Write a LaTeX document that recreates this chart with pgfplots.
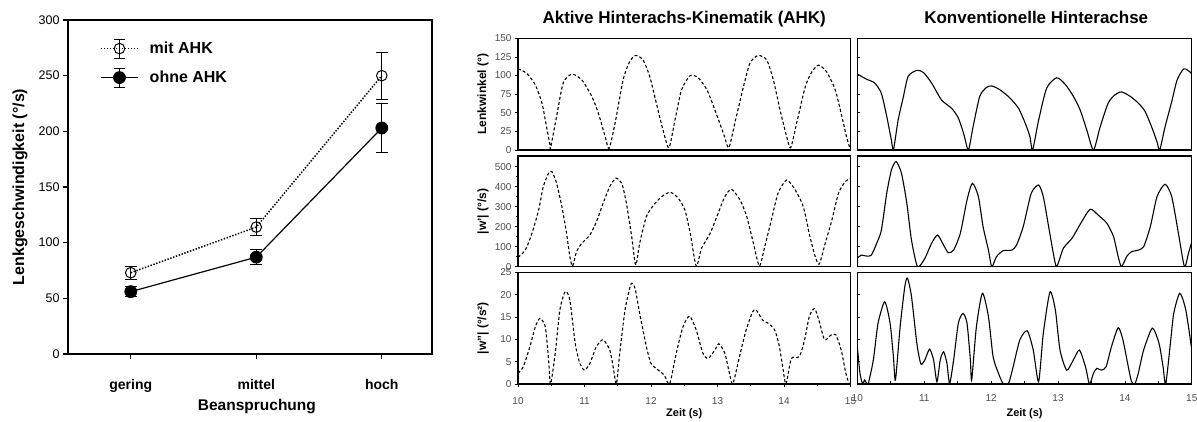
\documentclass[border=0pt]{standalone}
\usepackage{fontspec}
\setmainfont{Liberation Sans}
\usepackage{pgfplots}
\pgfplotsset{compat=1.18}

\pgfplotsset{
  panel/.style={
    scale only axis, anchor=south west,
    xmin=10, xmax=15, ymin=0,
    axis line style={line width=1.2pt},
    /pgf/number format/assume math mode=true,
    tick label style={font=\fontsize{10}{11}\selectfont, text=black!70},
    tick style={black, line width=0.8pt},
    xtick=\empty,
    ylabel style={font=\fontsize{12}{13}\selectfont\bfseries, at={(axis description cs:-0.105,0.5)}, anchor=center},
  },
  leftcol/.style={panel, width=332.5pt, tick align=outside, major tick length=3pt, minor tick length=2pt, ytick pos=left},
  rightcol/.style={panel, width=334.5pt, tick align=inside, major tick length=3pt, yticklabels={}, ytick pos=left},
  botrow/.style={xtick={10,...,15}, minor x tick num=1, xtick pos=left,
    xticklabel style={anchor=base, yshift=-17pt},
    xlabel={Zeit (s)},
    xlabel style={font=\fontsize{11}{12}\selectfont\bfseries, at={(axis description cs:0.5,0)}, anchor=base, yshift=-32.5pt}},
  ahk/.style={black, line width=1.1pt, dash pattern=on 3pt off 2.2pt, smooth, tension=0.4},
  konv/.style={black, line width=1.1pt, solid, smooth, tension=0.4},
}

\begin{document}
\begin{tikzpicture}[x=1pt,y=1pt]
\useasboundingbox (0,0) rectangle (1197,421);

% linkes Diagramm
\begin{axis}[
  at={(68pt,67pt)}, anchor=south west, scale only axis,
  width=364pt, height=334pt,
  xmin=-0.5, xmax=2.4, ymin=0, ymax=300,
  xtick={0,1,2}, xticklabels={gering,mittel,hoch},
  ytick={0,50,...,300},
  tick align=outside, xtick pos=left, ytick pos=left,
  major tick length=5pt,
  axis line style={line width=1.3pt},
  tick style={black, line width=1.3pt},
  /pgf/number format/assume math mode=true,
  xticklabel style={font=\fontsize{14}{16}\selectfont\bfseries, anchor=base, yshift=-30pt},
  yticklabel style={font=\fontsize{12.5}{14}\selectfont},
  xlabel={Beanspruchung},
  xlabel style={font=\fontsize{15.5}{17}\selectfont\bfseries, at={(axis description cs:0.519,0)}, anchor=base, yshift=-56pt},
  ylabel={Lenkgeschwindigkeit (°/s)},
  ylabel style={font=\fontsize{16}{18}\selectfont\bfseries, at={(axis description cs:-0.132,0.5)}, anchor=center},
  legend style={draw=none, fill=none, at={(axis description cs:0.088,0.945)}, anchor=north west,
    font=\fontsize{16}{18}\selectfont\bfseries, row sep=9pt, inner sep=0pt,
    /tikz/every odd column/.append style={column sep=9pt}},
  legend cell align=left,
  legend image code/.code={
    \draw[solid, black, line width=1pt] (18.5pt,-9.5pt) -- (18.5pt,9.5pt)
      (13pt,-9.5pt) -- (24pt,-9.5pt) (13pt,9.5pt) -- (24pt,9.5pt);
    \draw[mark repeat=2, mark phase=2, #1] plot coordinates {(0pt,0pt) (18.5pt,0pt) (37pt,0pt)};
  },
  error bars/error bar style={solid, black, line width=1pt},
  error bars/error mark options={solid, black, line width=1pt, mark size=6pt, rotate=90},
]
\addplot[black, line width=1.5pt, dash pattern=on 1.4pt off 1.6pt, mark=o, mark size=5.3pt,
  mark options={solid, fill=white, line width=1pt},
  error bars/.cd, y dir=both, y explicit]
  coordinates {(0,73) +- (0,6) (1,114) +- (0,8) (2,250) +- (0,21)};
\addlegendentry{mit AHK}
\addplot[black, line width=1.2pt, solid, mark=*, mark size=5.8pt,
  error bars/.cd, y dir=both, y explicit]
  coordinates {(0,56) +- (0,4.5) (1,87) +- (0,6.5) (2,203) +- (0,22)};
\addlegendentry{ohne AHK}
\end{axis}

% Lenkwinkel
\begin{axis}[leftcol, at={(518pt,271pt)}, height=111.7pt, ymax=150, ytick={0,25,...,150},
  ylabel={Lenkwinkel (°)},
  title={Aktive Hinterachs-Kinematik (AHK)},
  title style={font=\fontsize{17}{19}\selectfont\bfseries, at={(axis description cs:0.5,1)}, anchor=base, yshift=8.5pt}]
\addplot[ahk] coordinates {(10,109) (10.13,103) (10.26,87.5) (10.36,63) (10.43,31) (10.48,7) (10.49,3) (10.58,45) (10.68,90) (10.81,102) (10.96,94) (11.11,72) (11.21,49) (11.31,18) (11.37,2) (11.46,36) (11.58,94) (11.68,119) (11.77,127) (11.88,121) (11.98,99) (12.08,63) (12.18,27) (12.27,3) (12.36,40) (12.46,81) (12.59,100) (12.71,97) (12.84,81) (12.96,54) (13.09,22) (13.17,3) (13.26,36) (13.39,85) (13.49,117) (13.61,127) (13.74,121) (13.84,94) (13.94,54) (14.04,18) (14.10,3) (14.19,36) (14.32,85) (14.42,105) (14.52,114) (14.64,105) (14.77,81) (14.87,45) (14.94,18) (14.99,3) (15,6)};
\end{axis}
\begin{axis}[rightcol, at={(857.3pt,271pt)}, height=111.7pt, ymax=150, ytick={0,25,...,150},
  title={Konventionelle Hinterachse},
  title style={font=\fontsize{17}{19}\selectfont\bfseries, at={(axis description cs:0.535,1)}, anchor=base, yshift=8.5pt}]
\addplot[konv] coordinates {(10,102) (10.14,95) (10.26,90) (10.36,76) (10.44,45) (10.51,13) (10.54,0) (10.61,40) (10.69,72) (10.76,99) (10.89,107) (10.99,104) (11.11,90) (11.26,67) (11.41,56) (11.51,43) (11.59,22) (11.66,0) (11.73,31) (11.83,72) (11.93,84) (12.01,86) (12.13,81) (12.28,70) (12.41,56) (12.51,36) (12.58,18) (12.62,0) (12.71,40) (12.83,83) (12.98,97) (13.11,88) (13.23,72) (13.33,54) (13.43,27) (13.53,0) (13.63,31) (13.75,63) (13.85,74) (13.95,78) (14.08,72) (14.20,63) (14.30,52) (14.40,31) (14.48,11) (14.52,0) (14.60,31) (14.70,65) (14.78,94) (14.88,109) (14.97,105) (15,102)};
\end{axis}

% Lenkgeschwindigkeit
\begin{axis}[leftcol, at={(518pt,154.3pt)}, height=110.7pt, ymax=553, ytick={0,100,...,500}, minor y tick num=1,
  ylabel={|w'| (°/s)}]
\addplot[ahk] coordinates {(10,47) (10.11,83) (10.21,167) (10.31,283) (10.38,400) (10.46,467) (10.51,475) (10.58,417) (10.66,300) (10.73,167) (10.78,50) (10.82,3) (10.88,75) (10.96,117) (11.08,158) (11.18,225) (11.28,317) (11.38,400) (11.47,442) (11.56,417) (11.63,317) (11.71,150) (11.77,8) (11.83,117) (11.93,250) (12.04,308) (12.16,350) (12.29,372) (12.41,342) (12.51,283) (12.59,167) (12.68,3) (12.76,92) (12.89,167) (13.01,267) (13.11,350) (13.21,387) (13.34,333) (13.44,250) (13.54,117) (13.63,3) (13.71,100) (13.81,233) (13.91,367) (14.04,433) (14.17,383) (14.29,300) (14.39,150) (14.47,50) (14.53,13) (14.62,117) (14.72,233) (14.82,367) (14.92,425) (15,442)};
\end{axis}
\begin{axis}[rightcol, at={(857.3pt,154.3pt)}, height=110.7pt, ymax=553, ytick={0,100,...,500}]
\addplot[konv] coordinates {(10,42) (10.06,58) (10.14,53) (10.21,58) (10.29,117) (10.36,183) (10.44,367) (10.51,483) (10.58,525) (10.66,467) (10.74,317) (10.81,133) (10.90,0) (11.01,42) (11.11,117) (11.20,158) (11.29,108) (11.36,70) (11.44,83) (11.54,167) (11.64,333) (11.72,417) (11.81,350) (11.88,200) (11.96,83) (12.01,0) (12.08,50) (12.18,80) (12.31,83) (12.38,108) (12.48,200) (12.60,367) (12.71,408) (12.78,350) (12.86,200) (12.93,67) (12.98,0) (13.08,92) (13.21,142) (13.34,217) (13.48,287) (13.60,258) (13.73,217) (13.83,150) (13.90,50) (13.95,0) (14.03,53) (14.10,75) (14.20,83) (14.28,100) (14.38,200) (14.48,350) (14.60,412) (14.70,350) (14.80,167) (14.89,0) (14.95,67) (15,125)};
\end{axis}

% Lenkbeschleunigung
\begin{axis}[leftcol, botrow, at={(518pt,37pt)}, height=111.7pt, ymax=25, ytick={0,5,...,25},
  ylabel={|w''| (°/s²)}]
\addplot[ahk] coordinates {(10,2.4) (10.08,3.9) (10.18,8.4) (10.26,12.8) (10.33,14.7) (10.41,12.8) (10.46,5.4) (10.49,0) (10.56,6.9) (10.63,16.6) (10.71,20.7) (10.78,18.8) (10.86,9.1) (10.93,4.6) (11.0,3.1) (11.08,4.6) (11.18,8.4) (11.28,9.9) (11.38,7.6) (11.43,3.9) (11.48,0) (11.53,6.9) (11.61,16.6) (11.70,22.4) (11.76,21.4) (11.83,15.8) (11.93,8.4) (12.0,4.6) (12.11,3.1) (12.2,2.0) (12.28,0) (12.38,6.9) (12.48,12.8) (12.58,15.2) (12.68,12.1) (12.78,6.9) (12.86,5.7) (12.96,7.6) (13.02,9.0) (13.11,6.9) (13.18,2.4) (13.23,0) (13.33,6.1) (13.43,12.1) (13.53,16.2) (13.58,16.6) (13.68,14.3) (13.76,13.6) (13.86,12.1) (13.93,8.4) (13.98,3.9) (14.03,0) (14.11,5.7) (14.23,6.1) (14.31,9.9) (14.38,15.1) (14.46,16.9) (14.53,14.0) (14.61,9.9) (14.71,11.0) (14.78,11.0) (14.86,7.6) (14.93,2.4) (14.98,0)};
\end{axis}
\begin{axis}[rightcol, botrow, at={(857.3pt,37pt)}, height=111.7pt, ymax=25, ytick={0,5,...,25},
  xticklabels={10,11,12,13,14,15}]
\addplot[konv] coordinates {(10,8.4) (10.04,2.4) (10.08,0) (10.11,0.9) (10.16,0) (10.24,5.4) (10.31,13.6) (10.41,18.4) (10.49,13.6) (10.54,6.1) (10.57,0.9) (10.64,12.8) (10.71,21.8) (10.75,23.7) (10.81,19.6) (10.89,9.1) (10.95,4.5) (11.01,5.4) (11.08,7.8) (11.14,5.4) (11.19,0.5) (11.24,5.4) (11.29,7.2) (11.34,4.6) (11.38,0.1) (11.44,5.4) (11.51,13.6) (11.58,15.8) (11.64,13.6) (11.69,5.4) (11.71,0.9) (11.78,12.8) (11.87,20.3) (11.96,15.1) (12.03,6.1) (12.11,2.4) (12.18,0.1) (12.26,0.1) (12.33,3.9) (12.43,9.9) (12.54,11.9) (12.63,7.6) (12.71,0.5) (12.78,11.3) (12.88,20.6) (12.96,16.6) (13.03,7.6) (13.13,3.1) (13.23,5.4) (13.32,7.6) (13.41,3.9) (13.47,0) (13.53,2.4) (13.58,3.5) (13.65,3.1) (13.72,3.9) (13.80,8.4) (13.90,12.6) (13.97,9.9) (14.05,3.9) (14.10,0.5) (14.15,0.1) (14.20,2.4) (14.28,7.6) (14.41,12.5) (14.51,9.1) (14.57,3.9) (14.61,0) (14.68,9.1) (14.73,15.8) (14.82,20.3) (14.91,16.6) (15,7.6)};
\end{axis}
\end{tikzpicture}
\end{document}
